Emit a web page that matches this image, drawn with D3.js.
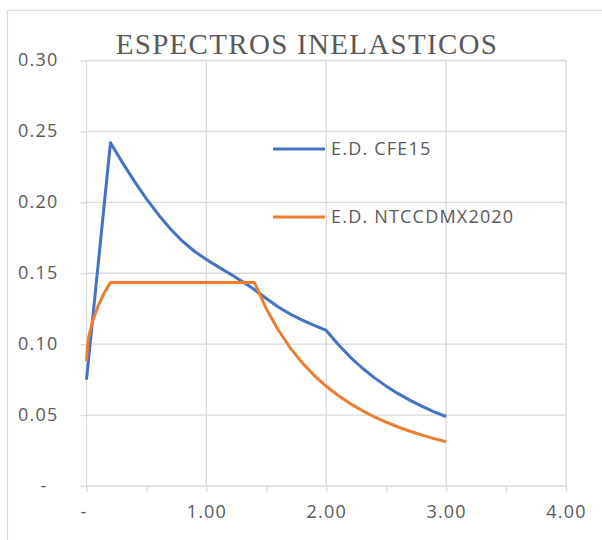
<html>
<head>
    <title>Espectros inelasticos</title>
    <script src="https://d3js.org/d3.v7.min.js"></script>
    <style>
        body { margin: 0; background: #fff; }
        .tick text { font-family: "Open Sans", sans-serif; font-size: 18px; fill: #595959; letter-spacing: 1.2px; }
        .legendText { font-family: "Open Sans", sans-serif; font-size: 18px; fill: #595959; letter-spacing: 1.2px; }
        .chartTitle { font-family: "Liberation Serif", "Times New Roman", serif; font-size: 29px; fill: #595959; letter-spacing: 1.3px; }
    </style>
</head>
<body>
    <svg width="602" height="540"></svg>

    <script>
        // E.D. CFE15
        const cfeT  = [0, 0.2, 0.3, 0.4, 0.5, 0.6, 0.7, 0.8, 0.9, 1.0, 1.1, 1.2, 1.3, 1.4, 1.5, 1.6, 1.7, 1.8, 1.9, 2.0,
                       2.1, 2.2, 2.3, 2.4, 2.5, 2.6, 2.7, 2.8, 2.9, 3.0];
        const cfeSa = [0.075, 0.242, 0.228, 0.2148, 0.2025, 0.1913, 0.1813, 0.1726, 0.1655, 0.1597, 0.1545, 0.1495,
                       0.1442, 0.1385, 0.1322, 0.1262, 0.1212, 0.117, 0.1132, 0.1097,
                       0.0998, 0.0909, 0.0832, 0.0764, 0.0704, 0.0651, 0.0604, 0.0561, 0.0523, 0.049];

        // E.D. NTCCDMX2020
        const ntcT  = [0, 0.01, 0.02, 0.05, 0.1, 0.15, 0.2, 1.4, 1.5, 1.6, 1.7, 1.8, 1.9, 2.0,
                       2.1, 2.2, 2.3, 2.4, 2.5, 2.6, 2.7, 2.8, 2.9, 3.0];
        const ntcSa = [0.088, 0.1005, 0.1057, 0.116, 0.1276, 0.1365, 0.1435, 0.1435, 0.125, 0.110, 0.0973, 0.0868, 0.0779,
                       0.0703, 0.0638, 0.0581, 0.0532, 0.0488, 0.045, 0.0416, 0.0386, 0.0359, 0.0334, 0.0312];

        const seriesNames = ["E.D. CFE15", "E.D. NTCCDMX2020"];
        const seriesColors = ["#4472C4", "#ED7D31"];

        const yTicks = [0, 0.05, 0.10, 0.15, 0.20, 0.25, 0.30];
        const xTicks = [0, 0.5, 1, 1.5, 2, 2.5, 3, 3.5, 4];
        const xLabelled = [0, 1, 2, 3, 4];

        const svg = d3.select('svg');

        // chart frame
        svg.append('rect')
            .attr('x', 7.5).attr('y', 10.5)
            .attr('width', 620).attr('height', 560)
            .attr('fill', '#fff')
            .attr('stroke', '#d9d9d9')
            .attr('stroke-width', 1.2);

        const x = d3.scaleLinear().domain([0, 4]).range([86.5, 566]);
        const y = d3.scaleLinear().domain([0, 0.3]).range([486, 60.5]);

        // grid
        const gridG = svg.append('g').attr('stroke', '#d9d9d9').attr('stroke-width', 1.3);
        gridG.selectAll('.hgrid').data(yTicks).join('line')
            .attr('x1', x(0)).attr('x2', x(4))
            .attr('y1', d => y(d)).attr('y2', d => y(d));
        gridG.selectAll('.vgrid').data(xLabelled).join('line')
            .attr('x1', d => x(d)).attr('x2', d => x(d))
            .attr('y1', y(0)).attr('y2', y(0.3));

        // y axis
        const yAxisG = svg.append('g')
            .attr('transform', `translate(${x(0)},0)`)
            .call(d3.axisLeft(y).tickValues(yTicks).tickSize(6).tickPadding(22)
                .tickFormat(d => d === 0 ? '-' : d.toFixed(2)));
        yAxisG.select('.domain').remove();
        yAxisG.selectAll('.tick line').attr('stroke', '#d9d9d9').attr('stroke-width', 1.3);
        yAxisG.selectAll('.tick text').attr('dy', '0.3em');
        yAxisG.selectAll('.tick text').filter(d => d === 0).attr('x', -39);

        // x axis
        const xAxisG = svg.append('g')
            .attr('transform', `translate(0,${y(0)})`)
            .call(d3.axisBottom(x).tickValues(xTicks).tickSize(6).tickPadding(13)
                .tickFormat(d => xLabelled.includes(d) ? (d === 0 ? '-' : d.toFixed(2)) : ''));
        xAxisG.select('.domain').remove();
        xAxisG.selectAll('.tick line').attr('stroke', '#d9d9d9').attr('stroke-width', 1.3);
        xAxisG.selectAll('.tick text').filter(d => d === 0).attr('dx', '-3');

        // lines
        const line = d3.line().x(d => x(d[0])).y(d => y(d[1]));
        const cfeData = d3.zip(cfeT, cfeSa);
        const ntcData = d3.zip(ntcT, ntcSa);

        svg.append('path')
            .datum(cfeData)
            .attr('d', line)
            .attr('fill', 'none')
            .attr('stroke', seriesColors[0])
            .attr('stroke-width', 3)
            .attr('stroke-linejoin', 'round');

        svg.append('path')
            .datum(ntcData)
            .attr('d', line)
            .attr('fill', 'none')
            .attr('stroke', seriesColors[1])
            .attr('stroke-width', 3)
            .attr('stroke-linejoin', 'round');

        // title
        svg.append('text')
            .attr('class', 'chartTitle')
            .attr('x', 307)
            .attr('y', 54)
            .attr('text-anchor', 'middle')
            .text('ESPECTROS INELASTICOS');

        // legend
        const legendG = svg.append('g').attr('transform', 'translate(273,149)');
        const legendItems = legendG.selectAll('g').data(seriesNames).join('g')
            .attr('transform', (d, i) => `translate(0,${i * 68})`);
        legendItems.append('line')
            .attr('x1', 0).attr('x2', 52)
            .attr('stroke', (d, i) => seriesColors[i])
            .attr('stroke-width', 3);
        legendItems.append('text')
            .attr('class', 'legendText')
            .attr('x', 58)
            .attr('dy', '0.35em')
            .text(d => d);
    </script>
</body>
</html>
